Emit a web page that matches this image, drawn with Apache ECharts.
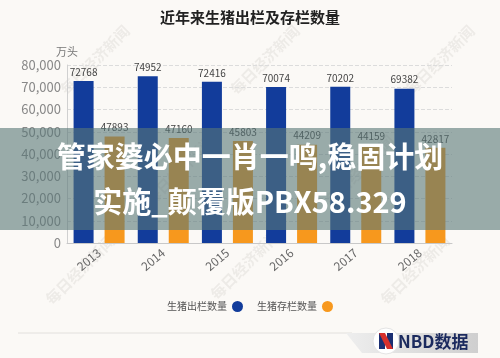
<!DOCTYPE html>
<html><head><meta charset="utf-8">
<script src="https://cdn.jsdelivr.net/npm/echarts@6/dist/echarts.min.js"></script>
<style>html,body{margin:0;padding:0;background:#fbf9f6}#c{width:500px;height:358px}</style>
</head><body><div id="c"></div>
<script>
var categories = ['2013','2014','2015','2016','2017','2018'];
var outValues = [72768, 74952, 72416, 70074, 70202, 69382];
var stockValues = [47893, 47160, 45803, 44209, 44159, 42817];
var seriesNames = ['生猪出栏数量','生猪存栏数量'];
var yTicks = [0,10000,20000,30000,40000,50000,60000,70000,80000];

var F = '"Noto Sans CJK SC","Noto Sans",sans-serif';
var chart = echarts.init(document.getElementById('c'), null, {renderer:'canvas'});
var wm = [];
[[95,60],[265,60],[440,60],[80,270],[245,265],[415,270],[180,170],[360,170]].forEach(function(p){
  wm.push({type:'text', x:p[0], y:p[1], rotation:Math.PI/4, z:0, silent:true,
    style:{text:'每日经济新闻', fill:'rgba(180,170,165,0.18)', font:'bold 15px '+F, textAlign:'center', textVerticalAlign:'middle'}});
});
chart.setOption({
  backgroundColor:'#fbf9f6',
  title:{text:'近年来生猪出栏及存栏数量', left:'center', top:5,
    textStyle:{fontSize:15, fontWeight:'bold', color:'#222', fontFamily:F}},
  grid:{left:67, right:48, top:65, bottom:115, containLabel:false},
  legend:{data:seriesNames, top:296, left:'center', align:'right', icon:'circle',
    itemWidth:11, itemHeight:11, itemGap:14,
    textStyle:{fontSize:10, color:'#555', fontFamily:F}},
  xAxis:{type:'category', data:categories,
    axisLine:{lineStyle:{color:'#c8c8c8'}}, axisTick:{show:false},
    axisLabel:{rotate:40, color:'#666', fontSize:12, fontFamily:F, margin:8}},
  yAxis:{type:'value', min:0, max:80000, interval:10000, name:'万头',
    nameTextStyle:{color:'#777', fontSize:11, fontFamily:F}, nameGap:8,
    axisLine:{show:true, lineStyle:{color:'#d0d0d0'}}, axisTick:{show:false},
    axisLabel:{color:'#888', fontSize:13, fontFamily:F, margin:6,
      formatter:function(v){return v.toLocaleString('en-US');}},
    splitLine:{lineStyle:{color:'#dcdcdc', type:'dashed'}}},
  series:[
    {name:seriesNames[0], type:'bar', data:outValues, barWidth:20, barGap:'55%',
      itemStyle:{color:'#123c9b'},
      label:{show:true, position:'top', fontSize:10, color:'#444', fontFamily:F, distance:4}},
    {name:seriesNames[1], type:'bar', data:stockValues, barWidth:20,
      itemStyle:{color:'#f7981d'},
      label:{show:true, position:'top', fontSize:10, color:'#444', fontFamily:F, distance:4}}
  ],
  graphic: wm.concat([
    {type:'line', z:5, shape:{x1:18,y1:333,x2:352,y2:333}, style:{stroke:'#e2e0dd', lineWidth:1}},
    {type:'polygon', z:5, shape:{points:[[346,333],[478,333],[478,353],[362,353]]},
      style:{fill:new echarts.graphic.LinearGradient(0,0,1,0,[{offset:0,color:'#eeeeee'},{offset:1,color:'#cfcfcf'}])}},
    {type:'circle', z:6, shape:{cx:386,cy:341,r:13}, style:{fill:'#ffffff', stroke:'#e4e4e4', lineWidth:1}},
    {type:'polygon', z:7, shape:{points:[[379,333],[385,333],[385,349],[379,349]]}, style:{fill:'#1b2f73'}},
    {type:'polygon', z:7, shape:{points:[[387,333],[393,333],[393,349],[387,349]]}, style:{fill:'#1b2f73'}},
    {type:'polygon', z:8, shape:{points:[[379,333],[385,333],[393,349],[387,349]]}, style:{fill:'#d8302c'}},
    {type:'text', z:7, x:398, y:342, style:{text:'NBD数据', fill:'#1b2a5e', font:'bold 17px '+F, textVerticalAlign:'middle'}},
    {type:'rect', z:100, shape:{x:0,y:128,width:500,height:102}, style:{fill:'rgba(88,118,118,0.6)'}},
    {type:'text', z:101, x:250, y:157, style:{text:'管家婆必中一肖一鸣,稳固计划', fill:'#ffffff', font:'bold 29px '+F, textAlign:'center', textVerticalAlign:'middle'}},
    {type:'text', z:101, x:250, y:202, style:{text:'实施_颠覆版PBX58.329', fill:'#ffffff', font:'bold 29px '+F, textAlign:'center', textVerticalAlign:'middle'}}
  ])
});
</script></body></html>
